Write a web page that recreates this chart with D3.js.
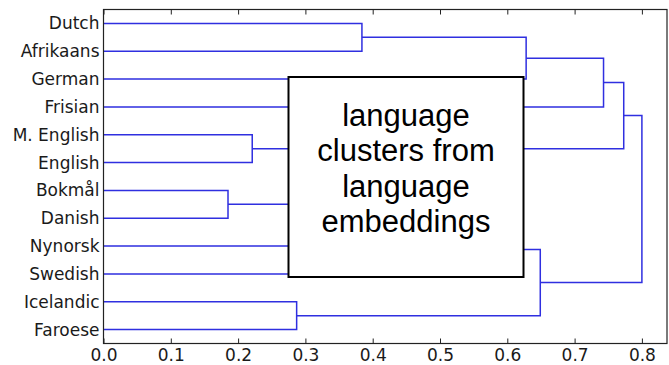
<!DOCTYPE html>
<html>
<head>
<meta charset="utf-8">
<script src="https://cdn.jsdelivr.net/npm/d3@7"></script>
<style>
  body { margin: 0; background: #fff; }
  .tick text { font-family: "DejaVu Sans", sans-serif; font-size: 17px; fill: #1a1a1a; }
</style>
</head>
<body>
<div id="chart"></div>
<script>
// dendrogram of languages, leaves listed top to bottom
var leaves = ["Dutch", "Afrikaans", "German", "Frisian", "M. English", "English",
              "Bokmål", "Danish", "Nynorsk", "Swedish", "Icelandic", "Faroese"];

// linkage: cluster 12+k joins mergeLeft[k] and mergeRight[k] at mergeHeight[k]
var mergeLeft   = [6, 4, 10, 0, 12, 16, 15, 17, 18, 20, 21];
var mergeRight  = [7, 5, 11, 1, 8, 9, 2, 14, 3, 13, 19];
var mergeHeight = [0.185, 0.221, 0.287, 0.384, 0.41, 0.47, 0.628, 0.649, 0.743, 0.773, 0.80];

var xTicks = [0.0, 0.1, 0.2, 0.3, 0.4, 0.5, 0.6, 0.7, 0.8];

var boxLines = ["language", "clusters from", "language", "embeddings"];

var totwidth = 669,
    totheight = 365,
    margin = {top: 9.5, right: 2, bottom: 21.5, left: 103.5},
    width = totwidth - margin.left - margin.right,
    height = totheight - margin.top - margin.bottom;

var svg = d3.select("#chart").append("svg")
    .attr("width", totwidth)
    .attr("height", totheight);

var g = svg.append("g")
    .attr("transform", "translate(" + margin.left + "," + margin.top + ")");

var xScale = d3.scaleLinear()
    .domain([0, width / 673])
    .range([0, width]);

var yScale = d3.scalePoint()
    .domain(leaves)
    .range([0, height])
    .padding(0.5);

// position (mid y) and height of every node
var nodeY = leaves.map(function(d) { return yScale(d); });
var nodeH = leaves.map(function() { return 0; });
mergeHeight.forEach(function(h, k) {
  nodeY.push((nodeY[mergeLeft[k]] + nodeY[mergeRight[k]]) / 2);
  nodeH.push(h);
});

// links
g.selectAll(".link")
  .data(mergeHeight)
  .enter()
  .append("path")
    .attr("class", "link")
    .attr("fill", "none")
    .attr("stroke", "#2f2fe0")
    .attr("stroke-width", 1.5)
    .attr("d", function(h, k) {
      var a = mergeLeft[k], b = mergeRight[k];
      return "M" + xScale(nodeH[a]) + "," + nodeY[a] +
             "H" + xScale(h) +
             "V" + nodeY[b] +
             "H" + xScale(nodeH[b]);
    });

// frame
g.append("rect")
  .attr("width", width)
  .attr("height", height)
  .attr("fill", "none")
  .attr("stroke", "#222")
  .attr("stroke-width", 1.2);

// bottom axis, ticks inward
var bottomAxis = g.append("g")
  .attr("transform", "translate(0," + height + ")")
  .call(d3.axisBottom(xScale).tickValues(xTicks).tickFormat(d3.format(".1f"))
        .tickSizeInner(-5).tickSizeOuter(0));
bottomAxis.select(".domain").remove();
bottomAxis.selectAll("line").attr("stroke", "#222");
bottomAxis.selectAll("text").attr("y", 17.5).attr("dy", 0);

// top ticks, inward
var topAxis = g.append("g")
  .call(d3.axisTop(xScale).tickValues(xTicks).tickFormat("")
        .tickSizeInner(-5).tickSizeOuter(0));
topAxis.select(".domain").remove();
topAxis.selectAll("line").attr("stroke", "#222");

// leaf labels
var leftAxis = g.append("g")
  .call(d3.axisLeft(yScale).tickSize(0).tickPadding(4));
leftAxis.select(".domain").remove();

// annotation box covering the middle
var box = svg.append("g");
box.append("rect")
  .attr("x", 288.5)
  .attr("y", 77)
  .attr("width", 235)
  .attr("height", 200)
  .attr("fill", "#fff")
  .attr("stroke", "#000")
  .attr("stroke-width", 2);

box.selectAll("text")
  .data(boxLines)
  .enter()
  .append("text")
    .attr("x", 406)
    .attr("y", function(d, i) { return 125.5 + i * 35.5; })
    .attr("text-anchor", "middle")
    .style("font-family", "'Liberation Sans', Arial, sans-serif")
    .style("font-size", "31px")
    .attr("fill", "#000")
    .text(function(d) { return d; });
</script>
</body>
</html>
